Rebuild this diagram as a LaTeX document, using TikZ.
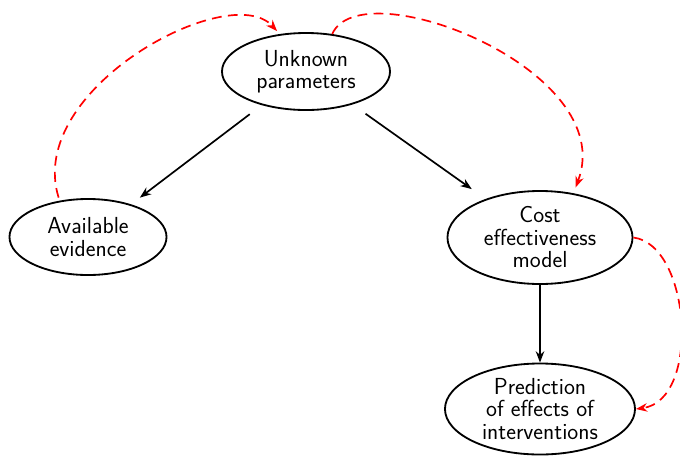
\documentclass[tikz,border=0pt]{standalone}
\usetikzlibrary{shapes.geometric,arrows.meta}

\tikzstyle{every node}=[font=\sffamily\fontsize{16.5pt}{16pt}\selectfont]
\tikzstyle{block}=[ellipse, draw, line width=1.3pt, align=center, inner sep=0pt]
\tikzstyle{link}=[-{Stealth[length=8pt,width=6pt,inset=2.5pt]}, line width=1.2pt]
\tikzstyle{feedback}=[link, red, dash pattern=on 7pt off 4.5pt]

\begin{document}
\begin{tikzpicture}[x=0.025cm, y=-0.025cm]
	\useasboundingbox (0,0) rectangle (680,456);

	% Uzly
	\node[block, minimum width=4.2cm, minimum height=1.925cm] (unknown) at (306,71.5) {Unknown\\parameters};
	\node[block, minimum width=3.925cm, minimum height=1.9cm] (evidence) at (88,237) {Available\\evidence};
	\node[block, minimum width=4.625cm, minimum height=2.325cm] (model) at (540,237.5) {Cost\\effectiveness\\model};
	\node[block, minimum width=4.75cm, minimum height=2.275cm] (prediction) at (540,409) {Prediction\\of effects of\\interventions};

	% Plné šipky
	\draw[link, shorten <=0.375cm, shorten >=0.275cm] (unknown) -- (evidence);
	\draw[link, shorten <=0.4cm, shorten >=0.425cm] (unknown) -- (model);
	\draw[link] (model.south) -- (prediction.north);

	% Čárkované zpětné vazby
	\draw[feedback, shorten <=0.08cm, shorten >=0.1cm] (evidence.128) .. controls +(-35,-111.5) and +(-50.3,-54.8) .. (unknown.125);
	\draw[feedback, shorten >=0.15cm] (unknown.55) .. controls +(28.3,-64.8) and +(47,-124) .. (model.53);
	\draw[feedback] (model.east) .. controls +(57.5,7.5) and +(65,-9) .. (prediction.east);
\end{tikzpicture}
\end{document}
